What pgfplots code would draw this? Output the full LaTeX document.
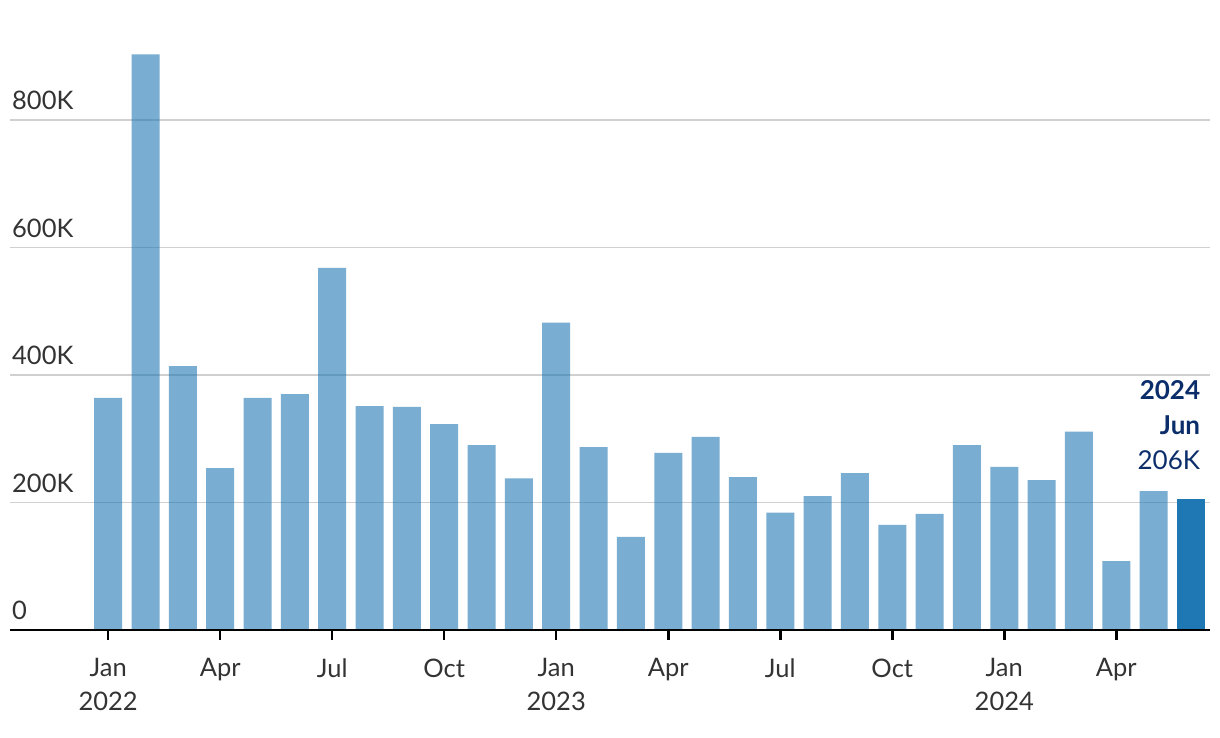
\documentclass[border=0pt]{standalone}
\usepackage{pgfplots}
\pgfplotsset{compat=1.18}
\usepackage{fontspec}
\setmainfont{Lato}
\definecolor{barblue}{HTML}{1F77B4}
\definecolor{navy}{HTML}{0B2E6B}
\definecolor{gridgray}{HTML}{D0D0D0}
\definecolor{labelgray}{HTML}{333333}
\begin{document}
\begin{tikzpicture}[x=1pt,y=1pt]
\useasboundingbox (0,0) rectangle (1220,738);
\begin{axis}[
  at={(10pt,108pt)}, anchor=south west,
  scale only axis, width=1200pt, height=605.6pt,
  xmin=-2.63, xmax=29.51, ymin=0, ymax=950,
  axis x line*=bottom, axis y line*=left,
  x axis line style={draw=none},
  y axis line style={draw=none},
  ytick style={draw=none},
  xtick style={black, line width=2.5pt},
  major tick length=10pt,
  tick align=outside,
  ymajorgrids, grid style={gridgray, line width=1.5pt},
  ytick={0,200,400,600,800},
  yticklabels={0,200K,400K,600K,800K},
  yticklabel style={anchor=south west, inner sep=0pt, text=labelgray, font=\fontsize{25.5}{30}\selectfont, xshift=12pt, yshift=10pt},
  xtick={0,3,6,9,12,15,18,21,24,27},
  xticklabels={Jan\\2022,Apr,Jul,Oct,Jan\\2023,Apr,Jul,Oct,Jan\\2024,Apr},
  xticklabel style={align=center, text=labelgray, font=\fontsize{25.5}{34}\selectfont, yshift=-15pt},
  clip=false,
]
\addplot[ybar, bar width=28pt, bar shift=0pt, draw=none, fill=barblue, fill opacity=0.6] coordinates {
(0,364) (1,903) (2,414) (3,254) (4,364) (5,370) (6,568) (7,351) (8,350) (9,323)
(10,290) (11,238) (12,482) (13,287) (14,146) (15,278) (16,303) (17,240) (18,184) (19,210)
(20,246) (21,165) (22,182) (23,290) (24,256) (25,235) (26,311) (27,108) (28,218)
};
\addplot[ybar, bar width=28pt, bar shift=0pt, draw=none, fill=barblue] coordinates {(29,206)};
\draw[black, line width=2.5pt] (rel axis cs:0,0) -- (rel axis cs:1,0);
\node[anchor=base east, inner sep=0pt, text=navy, font=\fontsize{26}{30}\selectfont\bfseries] at (axis cs:29.25,360.8) {2024};
\node[anchor=base east, inner sep=0pt, text=navy, font=\fontsize{26}{30}\selectfont\bfseries] at (axis cs:29.25,305.9) {Jun};
\node[anchor=base east, inner sep=0pt, text=navy, font=\fontsize{26}{30}\selectfont] at (axis cs:29.25,251) {206K};
\end{axis}
\end{tikzpicture}
\end{document}
